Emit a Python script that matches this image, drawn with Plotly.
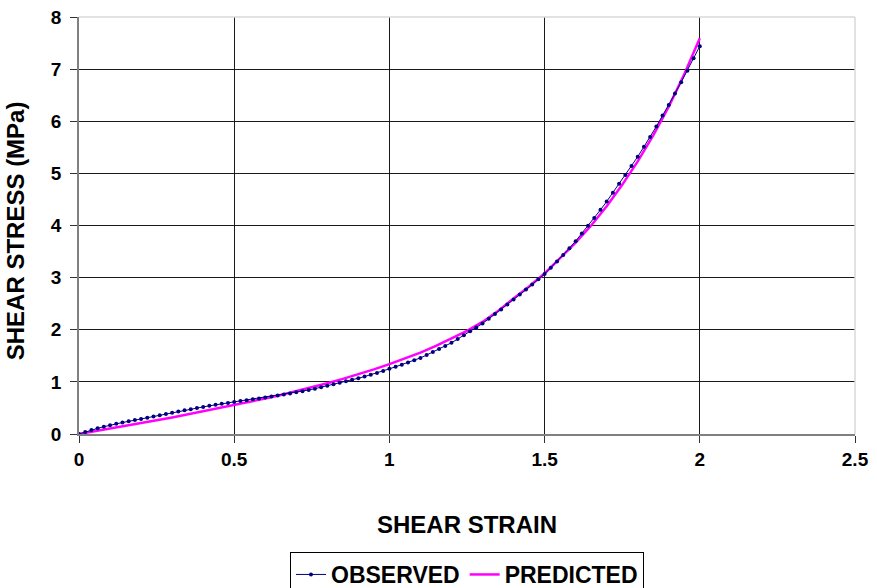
import plotly.graph_objects as go

# Observed data (strain step 0.02)
obs_strain = [round(i * 0.02, 2) for i in range(101)]
obs_stress = [
    0.000, 0.040, 0.075, 0.108, 0.140, 0.170, 0.196, 0.220, 0.243, 0.267,
    0.290, 0.314, 0.338, 0.362, 0.386, 0.410, 0.432, 0.454, 0.476, 0.498,
    0.520, 0.540, 0.559, 0.578, 0.597, 0.615, 0.632, 0.649, 0.666, 0.683,
    0.700, 0.718, 0.737, 0.757, 0.778, 0.800, 0.822, 0.845, 0.870, 0.897,
    0.925, 0.953, 0.982, 1.011, 1.040, 1.070, 1.102, 1.136, 1.172, 1.210,
    1.250, 1.290, 1.330, 1.372, 1.415, 1.460, 1.515, 1.572, 1.630, 1.690,
    1.750, 1.822, 1.895, 1.970, 2.045, 2.120, 2.210, 2.300, 2.390, 2.485,
    2.580, 2.675, 2.770, 2.868, 2.968, 3.070, 3.190, 3.310, 3.435, 3.565,
    3.700, 3.845, 3.995, 4.145, 4.300, 4.460, 4.630, 4.800, 4.970, 5.140,
    5.320, 5.510, 5.700, 5.900, 6.110, 6.310, 6.530, 6.750, 6.970, 7.210,
    7.440,
]

# Predicted data (strain step 0.05)
pred_strain = [round(i * 0.05, 2) for i in range(41)]
pred_stress = [
    0.000, 0.050, 0.101, 0.153, 0.207, 0.262, 0.318, 0.376, 0.436, 0.497,
    0.555, 0.615, 0.680, 0.748, 0.820, 0.895, 0.974, 1.058, 1.146, 1.240,
    1.340, 1.447, 1.562, 1.690, 1.830, 1.980, 2.150, 2.360, 2.600, 2.830,
    3.080, 3.370, 3.670, 4.000, 4.370, 4.780, 5.230, 5.730, 6.280, 6.900,
    7.590,
]

x_ticks = [0, 0.5, 1, 1.5, 2, 2.5]
x_ticktext = ["0", "0.5", "1", "1.5", "2", "2.5"]
y_ticks = [0, 1, 2, 3, 4, 5, 6, 7, 8]

FONT = "Liberation Sans, Arial, sans-serif"

fig = go.Figure()
fig.add_trace(go.Scatter(
    x=pred_strain, y=pred_stress, mode="lines", name="PREDICTED",
    line=dict(color="#FF00FF", width=2.5), legendrank=2,
))
fig.add_trace(go.Scatter(
    x=obs_strain, y=obs_stress, mode="lines+markers", name="OBSERVED",
    line=dict(color="#000080", width=1),
    marker=dict(color="#000080", size=4, symbol="circle"), legendrank=1,
))

L, R, T, B = 79, 22, 17, 153.5
W, H = 877, 588
pw, ph = W - L - R, H - T - B

fig.update_layout(
    width=W, height=H,
    margin=dict(l=L, r=R, t=T, b=B, pad=0),
    paper_bgcolor="white", plot_bgcolor="white",
    font=dict(family=FONT, color="black"),
    showlegend=True,
    legend=dict(
        orientation="h", xref="container", yref="container",
        x=467 / W, xanchor="center",
        y=1 - 552 / H, yanchor="top",
        font=dict(family=FONT, size=23, weight="bold", color="black"),
        bordercolor="black", borderwidth=1, bgcolor="white",
        traceorder="normal",
    ),
    xaxis=dict(
        range=[0, 2.5], tickvals=x_ticks, ticktext=x_ticktext,
        showgrid=True, gridcolor="#1a1a1a", gridwidth=1,
        zeroline=False, showline=True, linecolor="#808080", linewidth=1.5,
        ticks="outside", ticklen=7, tickcolor="#333", tickwidth=1,
        tickfont=dict(family=FONT, size=19, weight="bold", color="black"),
        automargin=False,
    ),
    yaxis=dict(
        range=[0, 8], tickvals=y_ticks,
        showgrid=True, gridcolor="#1a1a1a", gridwidth=1,
        zeroline=False, showline=True, linecolor="#808080", linewidth=1.5,
        ticks="outside", ticklen=7, tickcolor="#333", tickwidth=1,
        ticklabelstandoff=5,
        tickfont=dict(family=FONT, size=19, weight="bold", color="black"),
        automargin=False,
    ),
    shapes=[
        dict(type="line", xref="paper", yref="paper", x0=0, x1=1, y0=1, y1=1,
             line=dict(color="#d9d9d9", width=1.5), layer="above"),
        dict(type="line", xref="paper", yref="paper", x0=1, x1=1, y0=0, y1=1,
             line=dict(color="#d9d9d9", width=1.5), layer="above"),
    ],
    annotations=[
        dict(text="SHEAR STRAIN", xref="paper", yref="paper",
             x=(467 - L) / pw, y=(434.5 - 525) / ph,
             xanchor="center", yanchor="middle", showarrow=False,
             font=dict(family=FONT, size=24, weight="bold", color="black")),
        dict(text="SHEAR STRESS (MPa)", xref="paper", yref="paper",
             x=(15 - L) / pw, y=(434.5 - 231.5) / ph, textangle=-90,
             xanchor="center", yanchor="middle", showarrow=False,
             font=dict(family=FONT, size=24, weight="bold", color="black")),
    ],
)

fig.write_html("out.html")
